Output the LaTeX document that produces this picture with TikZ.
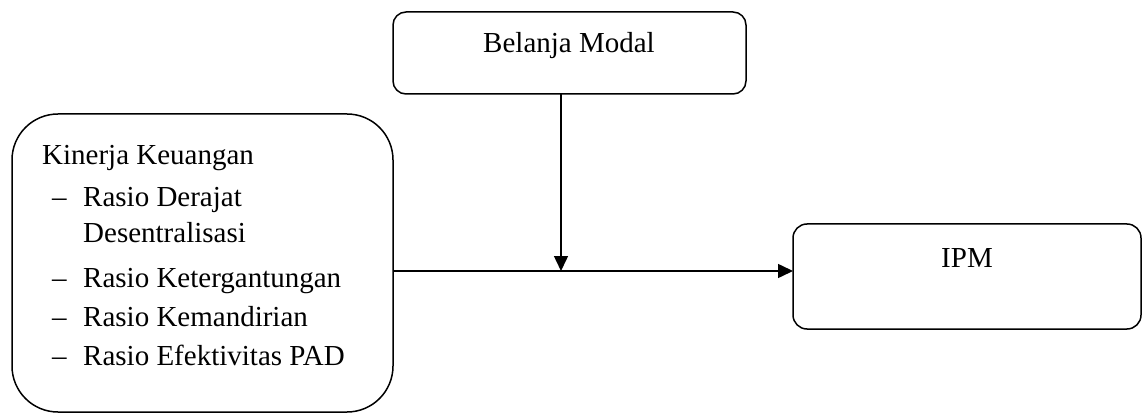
\documentclass[tikz,border=0pt]{standalone}
\usepackage{fontspec}
\setmainfont{Liberation Serif}
\usetikzlibrary{arrows.meta}
\begin{document}
\begin{tikzpicture}[x=1pt,y=-1pt,
  box/.style={draw,line width=1.5pt,inner sep=0pt,outer sep=0pt,anchor=north west},
  txt/.style={inner sep=0pt,anchor=base west,font=\fontsize{29}{36}\selectfont},
  ctxt/.style={inner sep=0pt,anchor=base,font=\fontsize{29}{36}\selectfont},
  arr/.style={line width=1.5pt,-{Triangle[length=15pt,width=14pt]}}]
\useasboundingbox (0,0) rectangle (1143,414);
\node[box,rounded corners=13pt,minimum width=353pt,minimum height=82pt] (bm) at (393,12) {};
\node[ctxt] (bmt) at (569,53) {Belanja Modal};
\node[box,rounded corners=46pt,minimum width=381pt,minimum height=298pt] (kin) at (12,114) {};
\node[txt] (k0) at (42,165) {Kinerja Keuangan};
\node[txt] (d1) at (52,207) {–};
\node[txt] (k1) at (83,207) {Rasio Derajat};
\node[txt] (k1b) at (83,243) {Desentralisasi};
\node[txt] (d2) at (52,287) {–};
\node[txt] (k2) at (83,287) {Rasio Ketergantungan};
\node[txt] (d3) at (52,326) {–};
\node[txt] (k3) at (83,326) {Rasio Kemandirian};
\node[txt] (d4) at (52,365) {–};
\node[txt] (k4) at (83,365) {Rasio Efektivitas PAD};
\node[box,rounded corners=14pt,minimum width=348pt,minimum height=105pt] (ipm) at (793,224) {};
\node[ctxt] (ipmt) at (967,267) {IPM};
\coordinate (m) at (561,271);
\draw[arr] (bm.south -| m) -- (m);
\draw[arr] (kin.east |- m) -- (ipm.west |- m);
\end{tikzpicture}
\end{document}
